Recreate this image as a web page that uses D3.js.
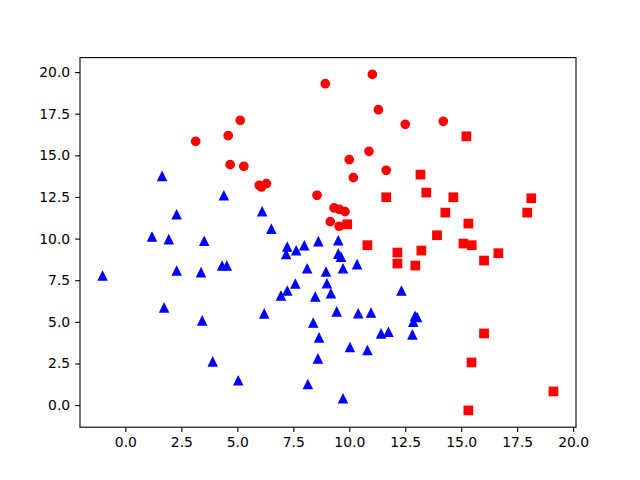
<!DOCTYPE html>
<html>
<head>
<meta charset="utf-8">
<script src="https://cdn.jsdelivr.net/npm/d3@7"></script>
<style>
  body { margin: 0; background: #fff; }
  svg { display: block; }
  .tick text { font-family: "DejaVu Sans", sans-serif; font-size: 13.9px; fill: #000; }
</style>
</head>
<body>
<div id="chart"></div>
<script>
// Red circles
const circleX = [8.93, 11.03, 11.30, 5.13, 3.14, 4.59, 12.50, 14.20, 4.68, 5.29, 10.88, 10.00, 11.65, 10.18,
  5.98, 6.08, 6.30, 8.56, 9.32, 9.55, 9.81, 9.15, 9.55];
const circleY = [19.30, 19.86, 17.74, 17.10, 15.84, 16.18, 16.86, 17.04, 14.44, 14.34, 15.24, 14.74, 14.10, 13.66,
  13.20, 13.10, 13.30, 12.60, 11.84, 11.76, 11.62, 11.02, 10.74];

// Red squares
const squareX = [9.91, 15.23, 13.18, 13.44, 11.65, 14.65, 18.13, 17.95, 14.29, 15.32, 13.92, 10.81,
  15.10, 15.47, 12.15, 13.22, 12.15, 12.95, 16.02, 16.66, 16.02, 15.46, 19.12, 15.32];
const squareY = [10.86, 16.14, 13.84, 12.76, 12.48, 12.48, 12.42, 11.56, 11.56, 10.90, 10.20, 9.60,
  9.70, 9.60, 9.16, 9.28, 8.50, 8.38, 8.68, 9.12, 4.30, 2.56, 0.82, -0.32];

// Blue triangles
const triX = [-1.02, 1.73, 2.29, 3.38, 3.43, 3.90, 4.32, 4.53, 5.04, 6.20, 6.95, 7.23, 7.59, 8.12,
  8.96, 9.00, 9.18, 8.48, 9.44, 8.39, 8.65, 8.60, 8.15, 7.23, 7.18, 7.63, 7.99, 8.62, 9.51, 9.63,
  9.51, 10.35, 9.72, 12.33, 10.40, 10.97, 12.94, 13.03, 12.86, 11.42, 11.75, 12.82, 10.03, 10.81,
  9.72, 1.19, 1.94, 3.52, 1.64, 4.40, 2.29, 6.11, 6.52];
const triY = [7.76, 5.84, 8.06, 7.96, 5.06, 2.60, 8.36, 8.36, 1.46, 5.48, 6.56, 6.86, 7.28, 8.19,
  8.00, 7.29, 6.69, 6.50, 5.60, 4.93, 4.04, 2.78, 1.24, 9.50, 9.05, 9.27, 9.57, 9.82, 9.07, 8.89,
  9.87, 8.44, 8.19, 6.86, 5.49, 5.53, 5.34, 5.26, 4.98, 4.28, 4.38, 4.22, 3.46, 3.28,
  0.38, 10.10, 9.94, 9.84, 13.74, 12.58, 11.44, 11.62, 10.57];

const xTicks = [0, 2.5, 5, 7.5, 10, 12.5, 15, 17.5, 20];
const yTicks = [0, 2.5, 5, 7.5, 10, 12.5, 15, 17.5, 20];

const W = 640, H = 480;
const margin = { top: 57.6, right: 64, bottom: 52.8, left: 80 };
const width = W - margin.left - margin.right;
const height = H - margin.top - margin.bottom;

const svg = d3.select("#chart").append("svg")
    .attr("width", W).attr("height", H)
  .append("g")
    .attr("transform", `translate(${margin.left},${margin.top})`);

// matplotlib style 5% padding
function padded(vals) {
  const lo = d3.min(vals), hi = d3.max(vals), p = (hi - lo) * 0.05;
  return [lo - p, hi + p];
}
const x = d3.scaleLinear().domain(padded(circleX.concat(squareX, triX))).range([0, width]);
const y = d3.scaleLinear().domain(padded(circleY.concat(squareY, triY))).range([height, 0]);

const ms = 8.33, mew = 1.39;

svg.selectAll(".circ").data(d3.zip(circleX, circleY)).join("circle")
  .attr("cx", d => x(d[0])).attr("cy", d => y(d[1])).attr("r", ms / 2)
  .attr("fill", "#ff0000").attr("stroke", "#ff0000").attr("stroke-width", mew);

svg.selectAll(".sq").data(d3.zip(squareX, squareY)).join("rect")
  .attr("x", d => x(d[0]) - ms / 2).attr("y", d => y(d[1]) - ms / 2)
  .attr("width", ms).attr("height", ms)
  .attr("fill", "#ff0000").attr("stroke", "#ff0000").attr("stroke-width", mew);

const h = ms / 2;
svg.selectAll(".tri").data(d3.zip(triX, triY)).join("path")
  .attr("d", `M0,${-h}L${-h},${h}L${h},${h}Z`)
  .attr("transform", d => `translate(${x(d[0])},${y(d[1])})`)
  .attr("fill", "#0000ff").attr("stroke", "#0000ff").attr("stroke-width", mew)
  .attr("stroke-linejoin", "miter");

// Axes
const fmt = d3.format(".1f");
const xAxis = svg.append("g").attr("transform", `translate(0,${height})`)
  .call(d3.axisBottom(x).tickValues(xTicks).tickFormat(fmt).tickSize(4.9).tickPadding(4.9));
const yAxis = svg.append("g")
  .call(d3.axisLeft(y).tickValues(yTicks).tickFormat(fmt).tickSize(4.9).tickPadding(4.9));
[xAxis, yAxis].forEach(a => {
  a.select(".domain").remove();
  a.selectAll(".tick line").attr("stroke", "#000").attr("stroke-width", 1.1);
});
xAxis.selectAll(".tick text").attr("dy", "0.75em");

// Frame
svg.append("rect").attr("width", width).attr("height", height)
  .attr("fill", "none").attr("stroke", "#000").attr("stroke-width", 1.1);
</script>
</body>
</html>
